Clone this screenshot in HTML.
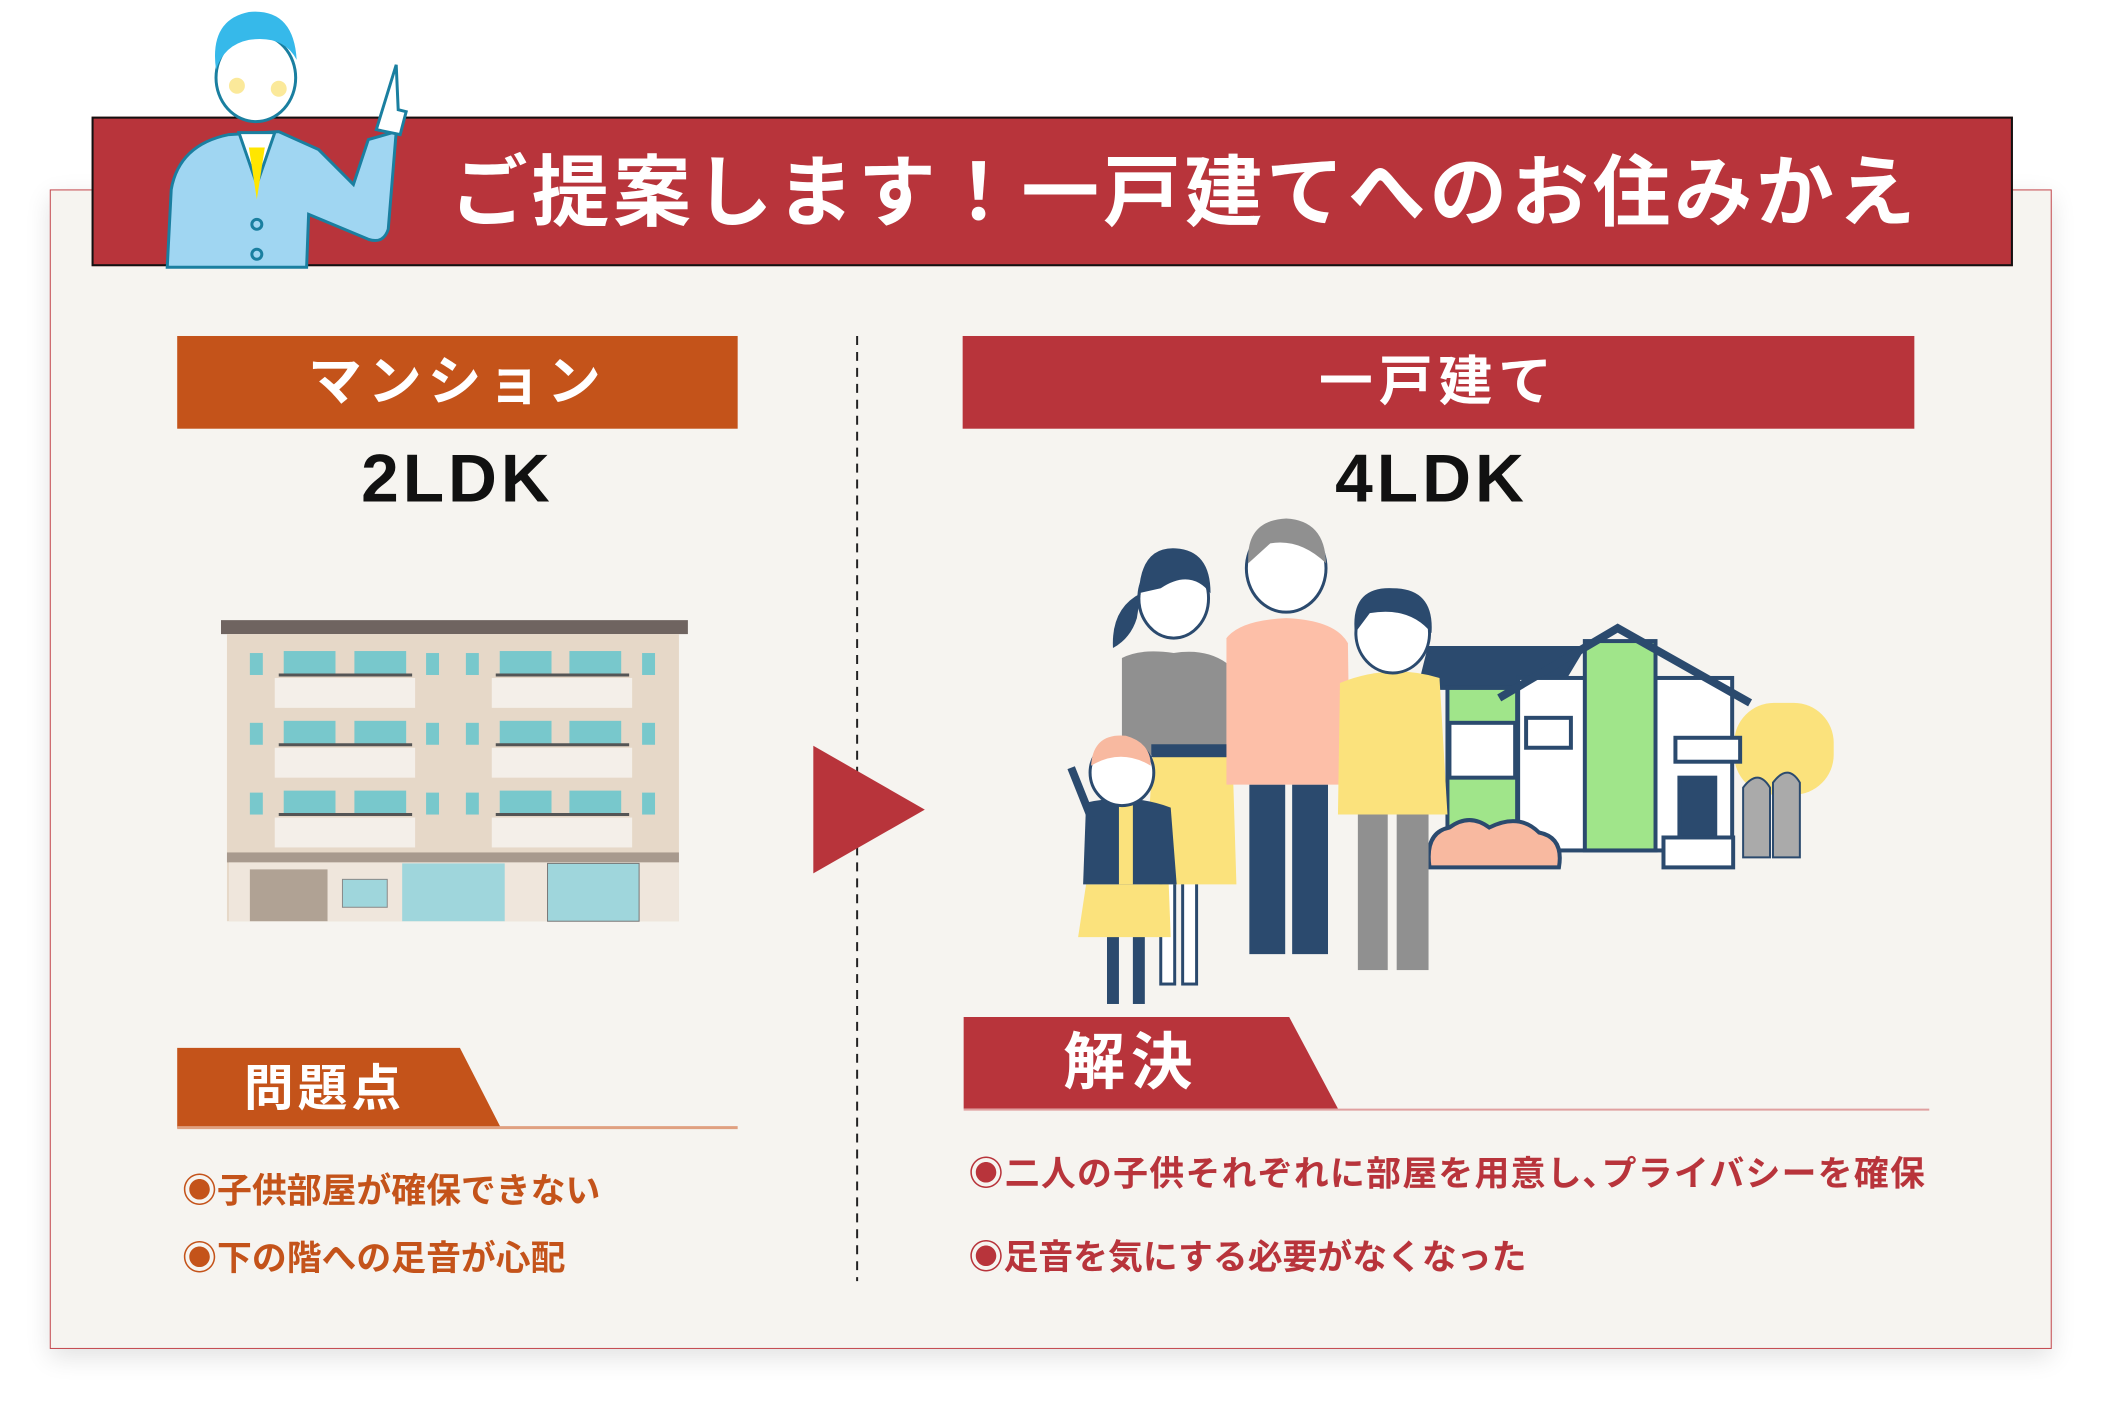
<!DOCTYPE html>
<html><head><meta charset="utf-8"><style>
html,body{margin:0;padding:0;background:#fff;}
body{width:2122px;height:1418px;position:relative;overflow:hidden;font-family:"Liberation Sans","Noto Sans CJK JP",sans-serif;}
#wrap{position:absolute;left:0;top:0;width:2122px;height:1418px;transform:scale(0.9955,0.997);transform-origin:0 0;}
.abs{position:absolute;}
.panel{left:50px;top:190px;width:2009px;height:1161px;background:#f6f4f0;border:1px solid #c2444a;box-shadow:0 8px 24px rgba(0,0,0,0.12);}
.banner{left:92px;top:117px;width:1930px;height:150px;background:#b8343b;border:2px solid #111;box-sizing:border-box;}
.btxt{left:452px;top:143px;font-size:78px;font-weight:bold;color:#fff;letter-spacing:4px;white-space:nowrap;line-height:100px;}
.lbl{color:#fff;font-weight:bold;text-align:center;line-height:93px;font-size:54px;letter-spacing:6px;}
.ldk{font-size:68px;font-weight:bold;color:#111;text-align:center;letter-spacing:4px;line-height:80px;}
.item{font-size:35px;font-weight:bold;white-space:nowrap;line-height:40px;}
</style></head><body><div id="wrap">
<div class="abs panel"></div>
<div class="abs banner"></div>
<div class="abs btxt">ご提案します！一戸建てへのお住みかえ</div>

<div class="abs lbl" style="left:178px;top:337px;width:563px;height:93px;background:#c4531a;">マンション</div>
<div class="abs lbl" style="left:967px;top:337px;width:956px;height:93px;background:#b8343b;">一戸建て</div>
<div class="abs ldk" style="left:178px;top:440px;width:563px;">2LDK</div>
<div class="abs ldk" style="left:960px;top:440px;width:956px;">4LDK</div>

<svg class="abs" style="left:0;top:0" width="2122" height="1418" viewBox="0 0 2122 1418">
 <line x1="861" y1="337" x2="861" y2="1285" stroke="#222" stroke-width="2" stroke-dasharray="9,7"/>
 <polygon points="817,748 929,812 817,876" fill="#b8343b"/>
 <g stroke="#1a7fa0" stroke-width="3">
  <path d="M168,268 L172,190 Q180,145 230,135 L280,132 L320,150 L355,185 L370,140 L398,132 L390,230 Q385,245 370,240 L310,215 L308,268 Z" fill="#a0d6f2"/>
  <polygon points="240,133 258,185 276,133" fill="#fff"/>
  <polygon points="250,148 258,200 266,148" fill="#ffe600" stroke="none"/>
  <ellipse cx="257" cy="78" rx="40" ry="44" fill="#fff"/>
  <path d="M217,70 Q210,20 250,12 Q295,8 298,60 Q285,35 250,40 Q225,45 217,70Z" fill="#36b9ea" stroke="none"/>
  <path d="M378,130 L398,65 L400,110 L408,112 L402,135 Z" fill="#fff"/>
  <circle cx="258" cy="225" r="5" fill="none"/><circle cx="258" cy="255" r="5" fill="none"/>
 </g>
 <circle cx="238" cy="86" r="8" fill="#fbe99a"/><circle cx="280" cy="89" r="8" fill="#fbe99a"/>
 <rect x="222" y="622" width="469" height="14" fill="#6f6460"/>
 <rect x="228" y="636" width="454" height="288" fill="#e6d8c8"/>
 <g fill="#f4efe9">
  <rect x="276" y="680" width="141" height="30"/><rect x="494" y="680" width="141" height="30"/>
  <rect x="276" y="750" width="141" height="30"/><rect x="494" y="750" width="141" height="30"/>
  <rect x="276" y="820" width="141" height="30"/><rect x="494" y="820" width="141" height="30"/>
 </g>
 <g fill="#78c8cc">
  <rect x="251" y="655" width="13" height="22"/><rect x="285" y="653" width="52" height="24"/><rect x="356" y="653" width="52" height="24"/><rect x="428" y="655" width="13" height="22"/><rect x="468" y="655" width="13" height="22"/><rect x="502" y="653" width="52" height="24"/><rect x="572" y="653" width="52" height="24"/><rect x="645" y="655" width="13" height="22"/>
  <rect x="251" y="725" width="13" height="22"/><rect x="285" y="723" width="52" height="24"/><rect x="356" y="723" width="52" height="24"/><rect x="428" y="725" width="13" height="22"/><rect x="468" y="725" width="13" height="22"/><rect x="502" y="723" width="52" height="24"/><rect x="572" y="723" width="52" height="24"/><rect x="645" y="725" width="13" height="22"/>
  <rect x="251" y="795" width="13" height="22"/><rect x="285" y="793" width="52" height="24"/><rect x="356" y="793" width="52" height="24"/><rect x="428" y="795" width="13" height="22"/><rect x="468" y="795" width="13" height="22"/><rect x="502" y="793" width="52" height="24"/><rect x="572" y="793" width="52" height="24"/><rect x="645" y="795" width="13" height="22"/>
 </g>
 <g stroke="#555" stroke-width="3"><line x1="280" y1="677" x2="414" y2="677"/><line x1="498" y1="677" x2="632" y2="677"/><line x1="280" y1="747" x2="414" y2="747"/><line x1="498" y1="747" x2="632" y2="747"/><line x1="280" y1="817" x2="414" y2="817"/><line x1="498" y1="817" x2="632" y2="817"/></g>
 <rect x="228" y="855" width="454" height="10" fill="#a89a8e"/>
 <rect x="230" y="865" width="452" height="59" fill="#efe6dc"/>
 <rect x="251" y="872" width="78" height="52" fill="#b0a294"/>
 <rect x="344" y="882" width="45" height="28" fill="#9fd6dc" stroke="#888"/>
 <rect x="404" y="866" width="103" height="58" fill="#9fd6dc"/>
 <rect x="550" y="866" width="92" height="58" fill="#9fd6dc" stroke="#777"/>
 <g transform="translate(6,0)">
 <g stroke="#2b4a6e" stroke-width="4">
  <rect x="1736" y="705" width="100" height="92" rx="40" fill="#fbe27c" stroke="none"/>
  <path d="M1420,690 L1430,650 L1584,650 L1560,690Z" fill="#2b4a6e"/>
  <rect x="1448" y="690" width="70" height="163" fill="#a0e58a"/>
  <rect x="1450" y="725" width="66" height="55" fill="#fff"/>
  <rect x="1519" y="680" width="215" height="173" fill="#fff"/>
  <rect x="1586" y="643" width="71" height="210" fill="#a0e58a"/>
  <polyline points="1500,700 1619,630 1752,705" fill="none" stroke-width="8"/>
  <rect x="1527" y="720" width="45" height="30" fill="#fff"/>
  <rect x="1677" y="740" width="65" height="24" fill="#fff"/>
  <rect x="1681" y="780" width="36" height="60" fill="#2b4a6e"/>
  <rect x="1665" y="840" width="70" height="30" fill="#fff"/>
  <path d="M1430,870 Q1425,835 1450,830 Q1470,815 1490,830 Q1520,815 1540,835 Q1565,840 1560,870Z" fill="#f8b9a0"/>
  <path d="M1745,860 L1745,790 Q1760,770 1772,790 L1772,860Z" fill="#aaa" stroke-width="2"/>
  <path d="M1775,860 L1775,785 Q1790,765 1802,785 L1802,860Z" fill="#aaa" stroke-width="2"/>
 </g>
 <g stroke="#2b4a6e" stroke-width="3">
  <rect x="1160" y="757" width="14" height="230" fill="#fff"/>
  <rect x="1182" y="757" width="14" height="230" fill="#fff"/>
  <path d="M1152,757 L1232,757 L1236,887 L1144,887Z" fill="#fbe27c" stroke="none"/>
  <path d="M1121,660 Q1140,650 1173,655 Q1205,650 1226,665 L1226,757 L1121,757Z" fill="#909090" stroke="none"/>
  <rect x="1152" y="748" width="80" height="10" fill="#2b4a6e"/>
  <ellipse cx="1173" cy="600" rx="35" ry="40" fill="#fff"/>
  <path d="M1138,595 Q1140,548 1175,550 Q1210,552 1210,595 Q1190,570 1160,590Z" fill="#2b4a6e" stroke="none"/>
  <path d="M1140,595 Q1110,610 1112,650 Q1130,640 1136,620" fill="#2b4a6e" stroke="none"/>
  <rect x="1249" y="787" width="36" height="170" fill="#2b4a6e" stroke="none"/>
  <rect x="1292" y="787" width="36" height="170" fill="#2b4a6e" stroke="none"/>
  <path d="M1226,640 Q1240,622 1286,620 Q1335,622 1348,645 L1350,787 L1226,787Z" fill="#fdbfa8" stroke="none"/>
  <ellipse cx="1286" cy="570" rx="40" ry="44" fill="#fff"/>
  <path d="M1248,565 Q1245,522 1286,520 Q1325,522 1326,565 Q1300,540 1270,545Z" fill="#909090" stroke="none"/>
  <rect x="1358" y="815" width="30" height="158" fill="#909090" stroke="none"/>
  <rect x="1397" y="815" width="32" height="158" fill="#909090" stroke="none"/>
  <path d="M1340,685 Q1390,665 1440,680 L1448,817 L1338,817Z" fill="#fbe27c" stroke="none"/>
  <ellipse cx="1393" cy="635" rx="37" ry="40" fill="#fff"/>
  <path d="M1355,635 Q1350,588 1393,590 Q1435,590 1432,635 Q1410,608 1370,615Z" fill="#2b4a6e" stroke="none"/>
  <rect x="1106" y="937" width="12" height="70" fill="#2b4a6e" stroke="none"/>
  <rect x="1132" y="937" width="12" height="70" fill="#2b4a6e" stroke="none"/>
  <path d="M1085,887 L1168,887 L1170,940 L1077,940Z" fill="#fbe27c" stroke="none"/>
  <path d="M1085,805 Q1130,795 1170,810 L1176,887 L1082,887Z" fill="#2b4a6e" stroke="none"/>
  <rect x="1118" y="805" width="14" height="82" fill="#fbe27c" stroke="none"/>
  <ellipse cx="1121" cy="775" rx="32" ry="33" fill="#fff"/>
  <path d="M1090,768 Q1092,735 1125,738 Q1150,745 1150,768 Q1120,750 1090,768Z" fill="#f8b9a0" stroke="none"/>
  <path d="M1070,770 L1090,820" stroke-width="8" stroke="#2b4a6e"/>
 </g>
 </g>
 <polygon points="178,1051 462,1051 503,1131 178,1131" fill="#c4531a"/>
 <line x1="178" y1="1131" x2="741" y2="1131" stroke="#e0a080" stroke-width="3"/>
 <polygon points="968,1020 1295,1020 1344,1112 968,1112" fill="#b8343b"/>
 <line x1="968" y1="1113" x2="1938" y2="1113" stroke="#e0a0a0" stroke-width="2"/>
</svg>

<div class="abs" style="left:245px;top:1062px;font-size:50px;font-weight:bold;color:#fff;letter-spacing:4px;line-height:60px;">問題点</div>
<div class="abs" style="left:1068px;top:1032px;font-size:62px;font-weight:bold;color:#fff;letter-spacing:6px;line-height:70px;">解決</div>

<div class="abs item" style="left:183px;top:1175px;color:#c4531a;">◉子供部屋が確保できない</div>
<div class="abs item" style="left:183px;top:1243px;color:#c4531a;">◉下の階への足音が心配</div>
<div class="abs item" style="left:973px;top:1158px;color:#b8343b;letter-spacing:1.3px;">◉二人の子供それぞれに部屋を用意し､プライバシーを確保</div>
<div class="abs item" style="left:973px;top:1242px;color:#b8343b;">◉足音を気にする必要がなくなった</div>
</div></body></html>
